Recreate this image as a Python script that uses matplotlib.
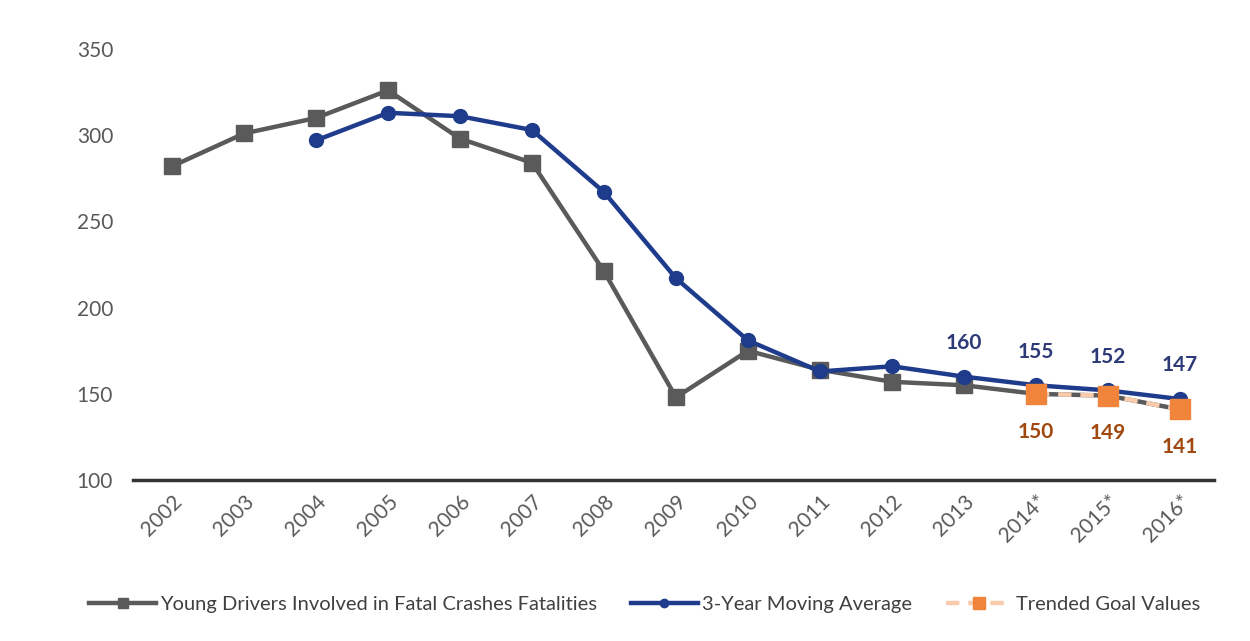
import matplotlib
matplotlib.use("Agg")
import matplotlib.pyplot as plt
import numpy as np

years = ["2002", "2003", "2004", "2005", "2006", "2007", "2008", "2009",
         "2010", "2011", "2012", "2013", "2014*", "2015*", "2016*"]
young_drivers = [282, 301, 310, 326, 298, 284, 221, 148, 175, 164, 157, 155, 150, 149, 141]
moving_avg = [None, None, 297, 313, 311, 303, 267, 217, 181, 163, 166, 160, 155, 152, 147]
goal_values = [None] * 12 + [150, 149, 141]
avg_label_years = ["2013", "2014*", "2015*", "2016*"]
goal_label_years = ["2014*", "2015*", "2016*"]

plt.rcParams['font.family'] = ['Lato', 'DejaVu Sans']

fig = plt.figure(figsize=(12.5, 6.41), dpi=100)
ax = fig.add_axes([0.106, 0.251, 0.865, 0.6726])

x = np.arange(len(years))
yd = np.array([np.nan if v is None else v for v in young_drivers], dtype=float)
ma = np.array([np.nan if v is None else v for v in moving_avg], dtype=float)
gv = np.array([np.nan if v is None else v for v in goal_values], dtype=float)

gray = "#5a5a5a"
blue = "#1f3c8c"
orange = "#f0843a"
peach = "#f8cbad"

ax.plot(x, yd, color=gray, lw=3.2, marker='s', markersize=11.5,
        label="Young Drivers Involved in Fatal Crashes Fatalities", zorder=3)
ax.plot(x, ma, color=blue, lw=3.2, marker='o', markersize=10,
        label="3-Year Moving Average", zorder=4)
ax.plot(x, gv, color=peach, lw=3.2, ls=(0, (3, 2)), marker='s', markersize=15,
        markerfacecolor=orange, markeredgecolor=orange,
        label="Trended Goal Values", zorder=5)

for yr in avg_label_years:
    i = years.index(yr)
    ax.annotate(f"{int(ma[i])}", (x[i], ma[i]), xytext=(0, 17), textcoords='offset points',
                ha='center', va='bottom', fontsize=15, fontweight='bold', color="#2e3a78")
for yr in goal_label_years:
    i = years.index(yr)
    ax.annotate(f"{int(gv[i])}", (x[i], gv[i]), xytext=(0, -20), textcoords='offset points',
                ha='center', va='top', fontsize=15, fontweight='bold', color="#a0480e")

ax.set_xlim(-0.55, 14.47)
ax.set_ylim(100, 350)
ax.set_yticks([100, 150, 200, 250, 300, 350])
ax.set_xticks(x)
ax.set_xticklabels(years, rotation=45, ha='right', rotation_mode='anchor')
ax.tick_params(axis='both', length=0, labelsize=15, labelcolor="#595959")
ax.tick_params(axis='y', pad=14)
ax.tick_params(axis='x', pad=8)

for s in ['top', 'right', 'left']:
    ax.spines[s].set_visible(False)
ax.spines['bottom'].set_color("#333333")
ax.spines['bottom'].set_linewidth(2.5)

leg = fig.legend(loc='center', bbox_to_anchor=(0.516, 0.057), ncol=3, frameon=False,
                 fontsize=14.5, handlelength=3.3, columnspacing=1.7, handletextpad=0.2,
                 markerscale=0.6, labelcolor="#404040")

fig.savefig("out.png", dpi=100)
